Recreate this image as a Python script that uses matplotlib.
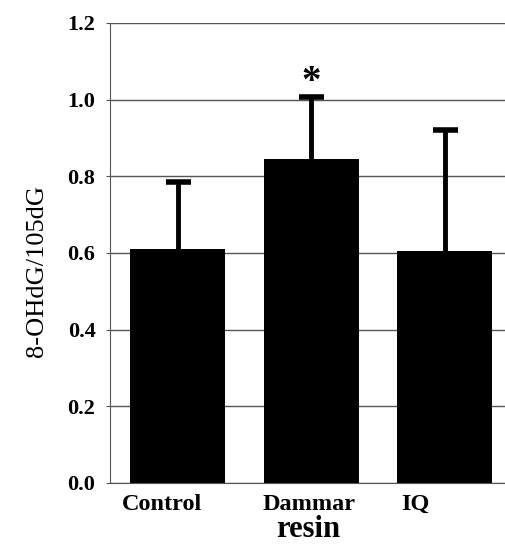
import numpy as np
import matplotlib.pyplot as plt

groups = ["Control", "Dammar", "IQ"]
means = [0.61, 0.845, 0.605]
errs = [0.175, 0.162, 0.315]
yticks = [0.0, 0.2, 0.4, 0.6, 0.8, 1.0, 1.2]

plt.rcParams['font.family'] = ['Liberation Serif', 'DejaVu Serif']

fig = plt.figure(figsize=(5.06, 5.49), dpi=100)
ax = fig.add_axes([110/506, 66/549, 396/506, 460/549])

x = np.arange(len(groups))
ax.set_axisbelow(True)
ax.yaxis.grid(True, color='#555555', linewidth=1.0)
ax.bar(x, means, width=0.71, color='black', zorder=2)
eb = ax.errorbar(x, means, yerr=[np.zeros(3), errs], fmt='none', ecolor='black',
                 elinewidth=3.5, capsize=9, capthick=4, zorder=3)
# only the upper caps
eb[1][0].set_visible(False)

# significance mark
ax.text(x[1], 1.046, '*', ha='center', va='center',
        fontsize=28, fontweight='bold')

ax.set_xlim(-0.506, 2.457)
ax.set_ylim(0, 1.2)
ax.set_yticks(yticks)
ax.set_yticklabels([f"{v:.1f}" for v in yticks], fontsize=16, fontweight='bold')
# labels in the original sit a bit left of the bar centres
ax.set_xticks(x + np.array([-0.12, -0.02, -0.22]))
ax.set_xticklabels(groups, fontsize=17.5, fontweight='bold')
ax.tick_params(axis='x', length=0, pad=8)
ax.tick_params(axis='y', length=3, color='#555555', pad=7.5)

for s in ['top', 'right']:
    ax.spines[s].set_visible(False)
for s in ['left', 'bottom']:
    ax.spines[s].set_color('#555555')

ax.set_ylabel('8-OHdG/105dG', fontsize=19, labelpad=14)
ax.yaxis.label.set_y(0.46)
ax.set_xlabel('resin', fontsize=22, fontweight='bold', labelpad=0)

fig.savefig('out.png', dpi=100)
